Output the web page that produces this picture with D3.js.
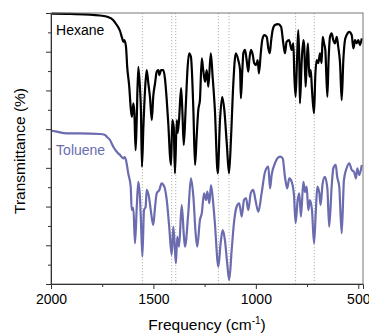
<!DOCTYPE html>
<html>
<head>
<meta charset="utf-8">
<script src="https://cdn.jsdelivr.net/npm/d3@7"></script>
<style>
  body { margin: 0; background: #fff; }
  text { font-family: "Liberation Sans", Arial, Helvetica, sans-serif; }
</style>
</head>
<body>
<div id="chart"></div>
<script>
// IR spectra: [frequency cm-1, transmittance (offset, a.u.)]
const hexane = [
  [1995,139.7],[1907,139.5],[1810,139.2],[1761,138.7],[1722,137.9],[1697,136.4],[1679,133.8],
  [1663,130.7],[1653,127.1],[1647,125.1],[1642,126.0],[1634,122.6],[1628,112.2],[1618,101.9],
  [1610,89.9],[1605,86.4],[1598,93.3],[1593,88.3],[1587,69.2],[1582,83.2],[1574,112.2],
  [1566,101.9],[1561,89.9],[1556,60.6],[1549,81.2],[1541,100.2],[1533,110.5],[1525,103.8],
  [1517,96.7],[1508,84.7],[1501,96.7],[1492,103.8],[1484,109.7],[1476,110.5],[1471,107.9],
  [1463,110.5],[1452,110.5],[1444,106.4],[1435,95.0],[1427,82.1],[1419,65.8],[1414,61.5],
  [1408,84.7],[1401,81.2],[1395,57.2],[1386,84.7],[1382,78.0],[1375,84.7],[1365,101.2],
  [1359,89.9],[1352,71.8],[1343,89.9],[1333,112.2],[1326,119.2],[1317,117.4],[1305,89.9],
  [1297,61.5],[1289,76.1],[1281,89.9],[1273,95.0],[1264,116.6],[1257,110.5],[1248,104.5],
  [1240,110.5],[1232,101.9],[1220,119.2],[1211,107.1],[1200,89.9],[1186,57.2],[1175,84.7],
  [1164,96.7],[1154,89.9],[1142,72.7],[1131,57.2],[1121,76.1],[1110,103.7],[1098,119.2],
  [1086,115.7],[1077,110.5],[1073,95.9],[1066,110.5],[1061,119.2],[1053,120.9],[1045,115.7],
  [1037,109.7],[1032,115.7],[1024,120.9],[1015,118.3],[1008,114.0],[999,113.1],[991,115.7],
  [985,108.8],[976,119.2],[969,126.0],[959,128.6],[947,127.7],[939,121.7],[932,119.2],
  [926,125.1],[918,131.2],[907,133.8],[891,134.3],[877,132.9],[866,124.3],[858,119.2],
  [850,125.1],[838,126.0],[825,120.9],[817,124.3],[812,107.1],[806,96.7],[799,115.7],
  [793,131.2],[788,115.7],[785,93.3],[776,115.7],[768,126.0],[764,122.9],[757,101.9],
  [752,114.0],[746,124.3],[739,107.1],[732,110.5],[726,100.2],[716,88.2],[710,107.1],
  [703,115.7],[695,114.1],[687,119.2],[679,114.1],[674,127.7],[667,124.3],[661,120.9],
  [651,96.7],[645,115.7],[638,127.7],[630,129.5],[622,126.0],[614,124.3],[605,127.7],
  [598,122.6],[589,114.0],[581,95.0],[573,115.7],[565,126.0],[557,128.6],[544,130.3],
  [532,128.6],[524,121.7],[516,126.0],[508,124.3],[500,126.0],[492,123.4],[483,126.9]
];

const toluene = [
  [1997,79.2],[1972,78.7],[1923,77.8],[1858,77.8],[1761,77.5],[1736,77.0],[1728,76.1],
  [1712,74.4],[1696,70.9],[1678,68.2],[1663,66.6],[1647,64.9],[1641,65.6],[1634,64.0],
  [1623,57.2],[1611,50.3],[1606,38.2],[1598,39.3],[1590,21.0],[1582,38.2],[1574,52.8],
  [1566,45.1],[1561,33.1],[1554,14.1],[1546,38.2],[1538,39.9],[1533,48.6],[1522,45.1],
  [1513,38.2],[1501,30.5],[1492,39.9],[1484,46.8],[1471,48.6],[1460,52.0],[1447,50.3],
  [1435,43.4],[1423,29.6],[1411,15.0],[1403,29.6],[1395,17.6],[1390,10.7],[1384,24.4],
  [1375,19.3],[1362,40.8],[1351,24.4],[1346,19.3],[1330,36.5],[1317,54.6],[1305,45.1],
  [1294,26.2],[1286,19.3],[1273,33.1],[1264,36.5],[1253,46.8],[1243,43.4],[1237,47.7],
  [1227,41.7],[1219,51.1],[1208,41.7],[1200,31.4],[1183,8.9],[1172,21.0],[1162,27.9],
  [1151,22.7],[1140,10.7],[1130,2.1],[1118,17.6],[1107,31.4],[1094,39.9],[1081,41.7],
  [1069,34.8],[1058,43.4],[1048,44.4],[1037,38.2],[1025,46.8],[1013,48.6],[1002,43.4],
  [988,37.3],[972,46.8],[955,58.0],[939,60.6],[931,49.4],[923,56.3],[907,62.3],
  [882,65.8],[869,64.9],[858,55.4],[847,49.4],[837,54.6],[825,52.8],[814,46.0],
  [806,31.4],[796,43.4],[788,46.8],[780,34.8],[768,52.8],[760,47.5],[752,50.3],
  [744,38.2],[736,43.4],[726,38.2],[716,21.0],[707,38.2],[700,50.3],[690,46.8],
  [684,40.8],[674,52.0],[663,55.4],[651,49.4],[642,29.6],[630,50.3],[622,59.8],
  [610,61.5],[603,55.4],[593,50.3],[581,26.2],[570,53.7],[557,59.8],[544,62.3],
  [532,58.9],[521,58.0],[511,54.6],[505,59.8],[495,56.3],[483,61.5]
];

// band positions marked with dotted guides
const markerFreqs = [1554, 1411, 1391, 1183, 1131, 806, 715];
const xTicks = [2000, 1500, 1000, 500];
const xMinorTicks = [1750, 1250, 750];
const seriesNames = ["Hexane", "Toluene"];
const seriesColors = ["#000000", "#6b6bb0"];

const width = 369;
const height = 334;
const margin = { top: 13, right: 6, bottom: 50, left: 51 };

const svg = d3.select("#chart")
  .append("svg")
  .attr("width", width)
  .attr("height", height);

const x = d3.scaleLinear()
  .domain([2000, 477])
  .range([margin.left, width - margin.right]);

const y = d3.scaleLinear()
  .domain([0, 140])
  .range([height - margin.bottom, margin.top]);

// dotted guide lines
svg.selectAll("line.marker")
  .data(markerFreqs)
  .enter()
  .append("line")
  .attr("class", "marker")
  .attr("x1", d => x(d)).attr("x2", d => x(d))
  .attr("y1", y(140)).attr("y2", y(0))
  .attr("stroke", "#a8a8a8")
  .attr("stroke-width", 0.9)
  .attr("stroke-dasharray", "1.2,1.8");

// spectra
const line = d3.line()
  .x(d => x(d[0]))
  .y(d => y(d[1]))
  .curve(d3.curveMonotoneX);

[hexane, toluene].forEach((data, i) => {
  svg.append("path")
    .datum(data)
    .attr("fill", "none")
    .attr("stroke", seriesColors[i])
    .attr("stroke-width", 2.2)
    .attr("stroke-linejoin", "round")
    .attr("d", line);
});

// frame
svg.append("rect")
  .attr("x", margin.left)
  .attr("y", margin.top)
  .attr("width", width - margin.left - margin.right)
  .attr("height", height - margin.top - margin.bottom)
  .attr("fill", "none")
  .attr("stroke", "#777")
  .attr("stroke-width", 1);

// x axis
const xAxis = svg.append("g")
  .attr("transform", `translate(0,${y(0)})`)
  .call(d3.axisBottom(x).tickValues(xTicks).tickSize(5).tickPadding(5).tickFormat(d3.format("d")));
xAxis.select(".domain").attr("stroke", "#333");
xAxis.selectAll(".tick line").attr("stroke", "#333");
xAxis.selectAll("text")
  .attr("font-family", "'Liberation Sans', Arial, sans-serif")
  .attr("font-size", 14)
  .attr("fill", "#000");

svg.append("g")
  .attr("transform", `translate(0,${y(0)})`)
  .call(d3.axisBottom(x).tickValues(xMinorTicks).tickSize(3).tickFormat(""))
  .call(g => g.select(".domain").remove())
  .selectAll(".tick line").attr("stroke", "#333");

// y axis, ticks only
const yAxis = svg.append("g")
  .attr("transform", `translate(${margin.left},0)`)
  .call(d3.axisLeft(y).tickValues(d3.range(0, 141, 20)).tickSize(5).tickFormat(""));
yAxis.select(".domain").attr("stroke", "#333");
yAxis.selectAll(".tick line").attr("stroke", "#333");

svg.append("g")
  .attr("transform", `translate(${margin.left},0)`)
  .call(d3.axisLeft(y).tickValues(d3.range(10, 140, 20)).tickSize(3).tickFormat(""))
  .call(g => g.select(".domain").remove())
  .selectAll(".tick line").attr("stroke", "#333");

// series labels
svg.append("text")
  .attr("x", x(1975)).attr("y", y(128.5))
  .attr("font-size", 14)
  .attr("fill", seriesColors[0])
  .text(seriesNames[0]);

svg.append("text")
  .attr("x", x(1975)).attr("y", y(66.5))
  .attr("font-size", 14)
  .attr("fill", seriesColors[1])
  .text(seriesNames[1]);

// axis titles
const xTitle = svg.append("text")
  .attr("x", (margin.left + width - margin.right) / 2)
  .attr("y", 330)
  .attr("text-anchor", "middle")
  .attr("font-size", 15.5)
  .attr("fill", "#000");
xTitle.append("tspan").text("Frequency (cm");
xTitle.append("tspan").attr("font-size", 10).attr("dy", -6).text("-1");
xTitle.append("tspan").attr("dy", 6).text(")");

svg.append("text")
  .attr("transform", "translate(25,151) rotate(-90)")
  .attr("text-anchor", "middle")
  .attr("font-size", 15.5)
  .attr("fill", "#000")
  .text("Transmittance (%)");
</script>
</body>
</html>
